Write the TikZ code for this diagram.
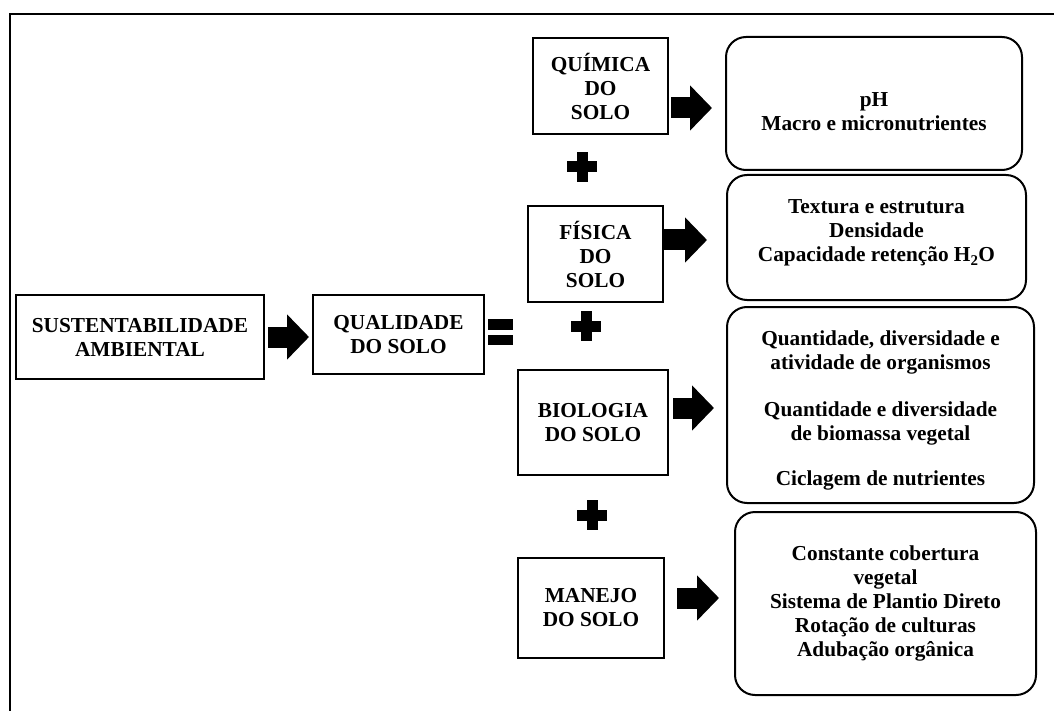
\documentclass[tikz,border=0pt]{standalone}
\usepackage{fontspec}
\setmainfont{Liberation Serif}
\usetikzlibrary{arrows.meta}
\tikzset{
  sqbox/.style={draw=black, line width=2pt, rectangle, inner sep=0pt, align=center,
    font=\fontsize{21.3}{24}\selectfont\bfseries},
  rbox/.style={draw=black, line width=2pt, rectangle, rounded corners=20pt, inner sep=0pt, align=center,
    font=\fontsize{21.3}{24}\selectfont\bfseries},
  blockarrow/.style={draw=black, line width=21pt, -{Triangle[width=44pt,length=22pt]}},
  crossmark/.pic={\fill[black] (-15,-5.5) rectangle (15,5.5); \fill[black] (-5.5,-15) rectangle (5.5,15);},
  frameline/.style={draw=black, line width=2.5pt}
}
\begin{document}
\begin{tikzpicture}[x=1pt,y=-1pt]
\useasboundingbox (0,0) rectangle (1054,711);
\fill[white] (0,0) rectangle (1054,711);
% frame
\coordinate (ftl) at (10,14);
\coordinate (ftr) at (1054,14);
\coordinate (fbl) at (10,711);
\draw[frameline] (ftr) -- (ftl) -- (fbl);

% left boxes
\node[sqbox, minimum width=248pt, minimum height=84pt] (sus) at (140,337) {SUSTENTABILIDADE\\AMBIENTAL};
\node[sqbox, minimum width=171pt, minimum height=79pt] (qual) at (398.5,334.5) {QUALIDADE\\DO SOLO};

% middle boxes
\node[sqbox, minimum width=135pt, minimum height=96pt] (qui) at (600.5,86) {QUÍMICA\\DO\\SOLO};
\node[sqbox, minimum width=135pt, minimum height=96pt] (fis) at (595.5,254) {FÍSICA\\DO\\SOLO};
\node[sqbox, minimum width=150pt, minimum height=105pt] (bio) at (593,422.5) {BIOLOGIA\\DO SOLO};
\node[sqbox, minimum width=146pt, minimum height=100pt] (man) at (591,608) {MANEJO\\DO SOLO};

% right boxes
\node[rbox, minimum width=296pt, minimum height=133pt] (r1) at (874,103.5) {\rule{0pt}{31pt}pH\\Macro e micronutrientes};
\node[rbox, minimum width=299pt, minimum height=125pt] (r2) at (876.5,237.5) {Textura e estrutura\\Densidade\\Capacidade retenção H\textsubscript{2}O\rule[-13pt]{0pt}{13pt}};
\node[rbox, minimum width=307pt, minimum height=196pt] (r3) at (880.5,405) {\rule{0pt}{25pt}Quantidade, diversidade e\\atividade de organismos\\[23pt]Quantidade e diversidade\\de biomassa vegetal\\[21pt]Ciclagem de nutrientes};
\node[rbox, minimum width=301pt, minimum height=183pt] (r4) at (885.5,603.5) {Constante cobertura\\vegetal\\Sistema de Plantio Direto\\Rotação de culturas\\Adubação orgânica};

% block arrows
\draw[blockarrow] ([xshift=3pt]sus.east) -- ([xshift=-3pt]sus.east -| qual.west);
\coordinate (a1) at ([shift={(2,22)}]qui.east);
\draw[blockarrow, shorten >=13pt] (a1) -- (a1 -| r1.west);
\coordinate (a2) at ([shift={(0,-14)}]fis.east);
\draw[blockarrow, shorten >=19pt] (a2) -- (a2 -| r2.west);
\coordinate (a3) at ([shift={(4,-14.5)}]bio.east);
\draw[blockarrow, shorten >=12pt] (a3) -- (a3 -| r3.west);
\coordinate (a4) at ([shift={(12,-10)}]man.east);
\draw[blockarrow, shorten >=15pt] (a4) -- (a4 -| r4.west);

% equals sign
\coordinate (eq) at (500.5,332);
\fill[black] ([shift={(-12.5,-13)}]eq) rectangle ([shift={(12.5,-2)}]eq);
\fill[black] ([shift={(-12.5,3)}]eq) rectangle ([shift={(12.5,13)}]eq);

% plus signs
\pic at (582,167) {crossmark};
\pic at (586,326) {crossmark};
\pic at (592,515) {crossmark};
\end{tikzpicture}
\end{document}
